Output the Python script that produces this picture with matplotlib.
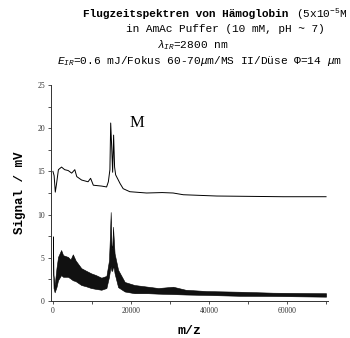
import matplotlib
matplotlib.use("Agg")
import matplotlib.pyplot as plt

plt.rcParams["mathtext.fontset"] = "custom"
plt.rcParams["mathtext.rm"] = "Liberation Mono"
plt.rcParams["mathtext.it"] = "Liberation Mono:italic"
plt.rcParams["mathtext.bf"] = "Liberation Mono:bold"

# --- upper trace (offset spectrum) ---
up_x = [0, 300, 600, 900, 1400, 2200, 3000, 3900, 4800, 5600, 6100, 7350, 9000,
        9650, 10350, 12500, 13750, 14200, 14600, 14800, 15050, 15300, 15550,
        15800, 16070, 16750, 17200, 18000, 19700, 24000, 28000, 30800, 33400,
        42000, 59000, 70000]
up_y = [15.0, 14.5, 12.6, 13.5, 15.2, 15.5, 15.2, 15.1, 14.8, 15.2, 14.4, 14.0, 13.8,
        14.2, 13.4, 13.3, 13.2, 13.8, 15.2, 20.6, 17.9, 14.9, 19.2,
        15.5, 14.6, 14.0, 13.6, 13.0, 12.65, 12.5, 12.55, 12.5, 12.3,
        12.15, 12.07, 12.07]

# --- lower trace (noisy spectrum), upper / lower envelope ---
low_x = [0, 150, 430, 900, 1300, 2100, 2600, 3850, 4500, 5100, 5800, 7260, 8500,
         9800, 11000, 12400, 13700, 14360, 14600, 14800, 15000, 15200, 15400,
         15600, 15800, 16700, 18400, 20900, 24400, 27000, 30800, 34000, 39400,
         48000, 56400, 70000]
low_hi = [7.5, 3.0, 1.8, 3.8, 5.1, 5.9, 5.3, 5.1, 4.8, 5.4, 4.7, 3.8, 3.5,
          3.2, 3.0, 2.7, 2.9, 4.7, 7.5, 10.3, 6.5, 6.0, 8.6,
          7.0, 5.5, 3.6, 2.2, 1.85, 1.65, 1.5, 1.65, 1.3, 1.15,
          1.07, 0.96, 0.9]
low_lo = [4.5, 1.5, 1.0, 1.6, 2.4, 3.0, 2.8, 2.8, 2.6, 2.4, 2.3, 1.85, 1.7,
          1.5, 1.4, 1.3, 1.5, 2.8, 3.5, 4.0, 3.5, 3.5, 4.0,
          3.8, 3.2, 1.6, 1.1, 0.9, 0.9, 0.85, 0.8, 0.75, 0.7,
          0.6, 0.58, 0.5]

x_major = [0, 20000, 40000, 60000]
x_minor = [10000, 30000, 50000, 70000]
y_major = [0, 5, 10, 15, 20, 25]

W, H = 350, 338
fig = plt.figure(figsize=(W / 100, H / 100), dpi=100)
ax = fig.add_axes([51 / W, 1 - 301 / H, 277 / W, 216 / H])

ax.plot(up_x, up_y, color="black", lw=0.7)
ax.fill_between(low_x, low_lo, low_hi, color="#111111", lw=0.4, edgecolor="black")

ax.set_xlim(-500, 70500)
ax.set_ylim(0, 25)
ax.spines["top"].set_visible(False)
ax.spines["right"].set_visible(False)
for s in ("left", "bottom"):
    ax.spines[s].set_linewidth(0.7)
    ax.spines[s].set_color("#333333")

ax.set_xticks(x_major)
ax.set_xticks(x_minor, minor=True)
ax.set_yticks(y_major)
ax.set_yticks([2.5, 7.5, 12.5, 17.5, 22.5], minor=True)
ax.tick_params(which="both", width=0.6, length=2.5, colors="#333333",
               labelsize=5.5, pad=2)
for lab in ax.get_xticklabels() + ax.get_yticklabels():
    lab.set_family("Liberation Serif")

ax.set_xlabel("m/z", family="Liberation Mono", weight="bold", fontsize=9.5, labelpad=7)
ax.set_ylabel("Signal / mV", family="Liberation Mono", weight="bold", fontsize=9, labelpad=8)

ax.text(21500, 20.6, "M", family="Liberation Serif", fontsize=12, ha="center", va="center")

# --- header ---
mono = dict(family="Liberation Mono", fontsize=8, va="center")
fig.text(83 / W, 1 - 14 / H, "Flugzeitspektren von Hämoglobin", weight="bold", ha="left", **mono)
fig.text(296 / W, 1 - 14 / H, "(5x10$^{-5}$M", ha="left", **mono)
fig.text(126 / W, 1 - 29 / H, "in AmAc Puffer (10 mM, pH ~ 7)", ha="left", **mono)
fig.text(157 / W, 1 - 45 / H, r"$\lambda_{IR}$=2800 nm", ha="left", **mono)
fig.text(57 / W, 1 - 61 / H, r"$E_{IR}$=0.6 mJ/Fokus 60-70$\mu$m/MS II/Düse $\Phi$=14 $\mu$m",
         ha="left", **mono)

fig.savefig("out.png", dpi=100)
